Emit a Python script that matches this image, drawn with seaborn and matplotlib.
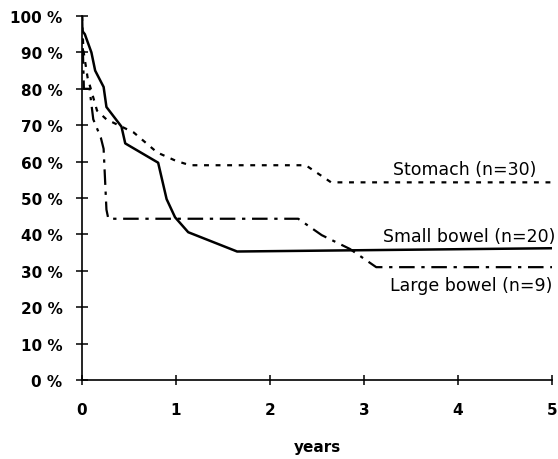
import matplotlib
matplotlib.use("Agg")
import matplotlib.pyplot as plt
import seaborn as sns
import pandas as pd

# Data
stomach_t = [0, 0.015, 0.06, 0.16, 0.26, 0.55, 0.8, 1.0, 1.15, 2.38, 2.65, 5]
stomach_s = [100, 90.5, 83, 74, 71.6, 68, 62.5, 60.2, 59, 59, 54.3, 54.3]

small_t = [0, 0.0, 0.03, 0.1, 0.14, 0.23, 0.26, 0.42, 0.46, 0.81, 0.9, 0.99, 1.13, 1.65, 5]
small_s = [100, 96, 95, 90, 85, 80.5, 75, 69.6, 65, 59.7, 49.7, 44.7, 40.6, 35.3, 36.2]

large_t = [0, 0.01, 0.02, 0.08, 0.12, 0.2, 0.23, 0.26, 0.28, 2.3, 2.55, 2.85, 3.13, 5]
large_s = [100, 90, 80, 80, 71.6, 66.6, 63.5, 46.8, 44.3, 44.3, 39.8, 36, 31, 31]

group_labels = ["Stomach (n=30)", "Small bowel (n=20)", "Large bowel (n=9)"]
label_x = [4.83, 5.04, 5.0]
label_y = [58.0, 39.5, 26.1]
x_ticks = [0, 1, 2, 3, 4, 5]
y_ticks = [0, 10, 20, 30, 40, 50, 60, 70, 80, 90, 100]
y_tick_labels = [f"{v} %" for v in y_ticks]

df = pd.concat([
    pd.DataFrame({"t": stomach_t, "s": stomach_s, "g": "stomach"}),
    pd.DataFrame({"t": small_t, "s": small_s, "g": "small"}),
    pd.DataFrame({"t": large_t, "s": large_s, "g": "large"}),
], ignore_index=True)

sns.set_style("white")
plt.rcParams['font.family'] = ['DejaVu Sans']
plt.rcParams['text.color'] = 'black'
plt.rcParams['xtick.color'] = 'black'
plt.rcParams['ytick.color'] = 'black'
plt.rcParams['axes.labelcolor'] = 'black'

fig = plt.figure(figsize=(5.58, 4.60), dpi=100)
ax = fig.add_axes([82/558, 1 - 381/460, (552-82)/558, (381-17)/460])

dashes = {"stomach": (2.2, 3.0), "small": "", "large": (7, 3, 1.5, 3)}
widths = {"stomach": 1.6, "small": 1.8, "large": 1.6}
for g in ["stomach", "small", "large"]:
    sub = df[df["g"] == g]
    sns.lineplot(data=sub, x="t", y="s", ax=ax, color="black", sort=False,
                 estimator=None, linewidth=widths[g], legend=False)
    if dashes[g]:
        ax.lines[-1].set_dashes(dashes[g])

ax.set_xlim(0, 5)
ax.set_ylim(0, 100)
ax.set_xticks(x_ticks)
ax.set_xticklabels([str(v) for v in x_ticks], fontsize=11, fontweight="bold")
ax.set_yticks(y_ticks)
ax.set_yticklabels(y_tick_labels, fontsize=11, fontweight="bold")
ax.tick_params(axis="y", left=True, direction="inout", length=8, width=1.1, pad=10, color="black")
ax.tick_params(axis="x", bottom=True, direction="inout", length=7, width=1.1, pad=12, color="black")
for sp in ["top", "right"]:
    ax.spines[sp].set_visible(False)
for sp in ["left", "bottom"]:
    ax.spines[sp].set_color("black")
    ax.spines[sp].set_linewidth(1.2)
ax.set_xlabel("years", fontsize=11, fontweight="bold", labelpad=16)
ax.set_ylabel("")

for lab, yy, xx in zip(group_labels, label_y, label_x):
    ax.text(xx, yy, lab, ha="right", va="center", fontsize=12.5, color="black")

fig.savefig("out.png", dpi=100)
